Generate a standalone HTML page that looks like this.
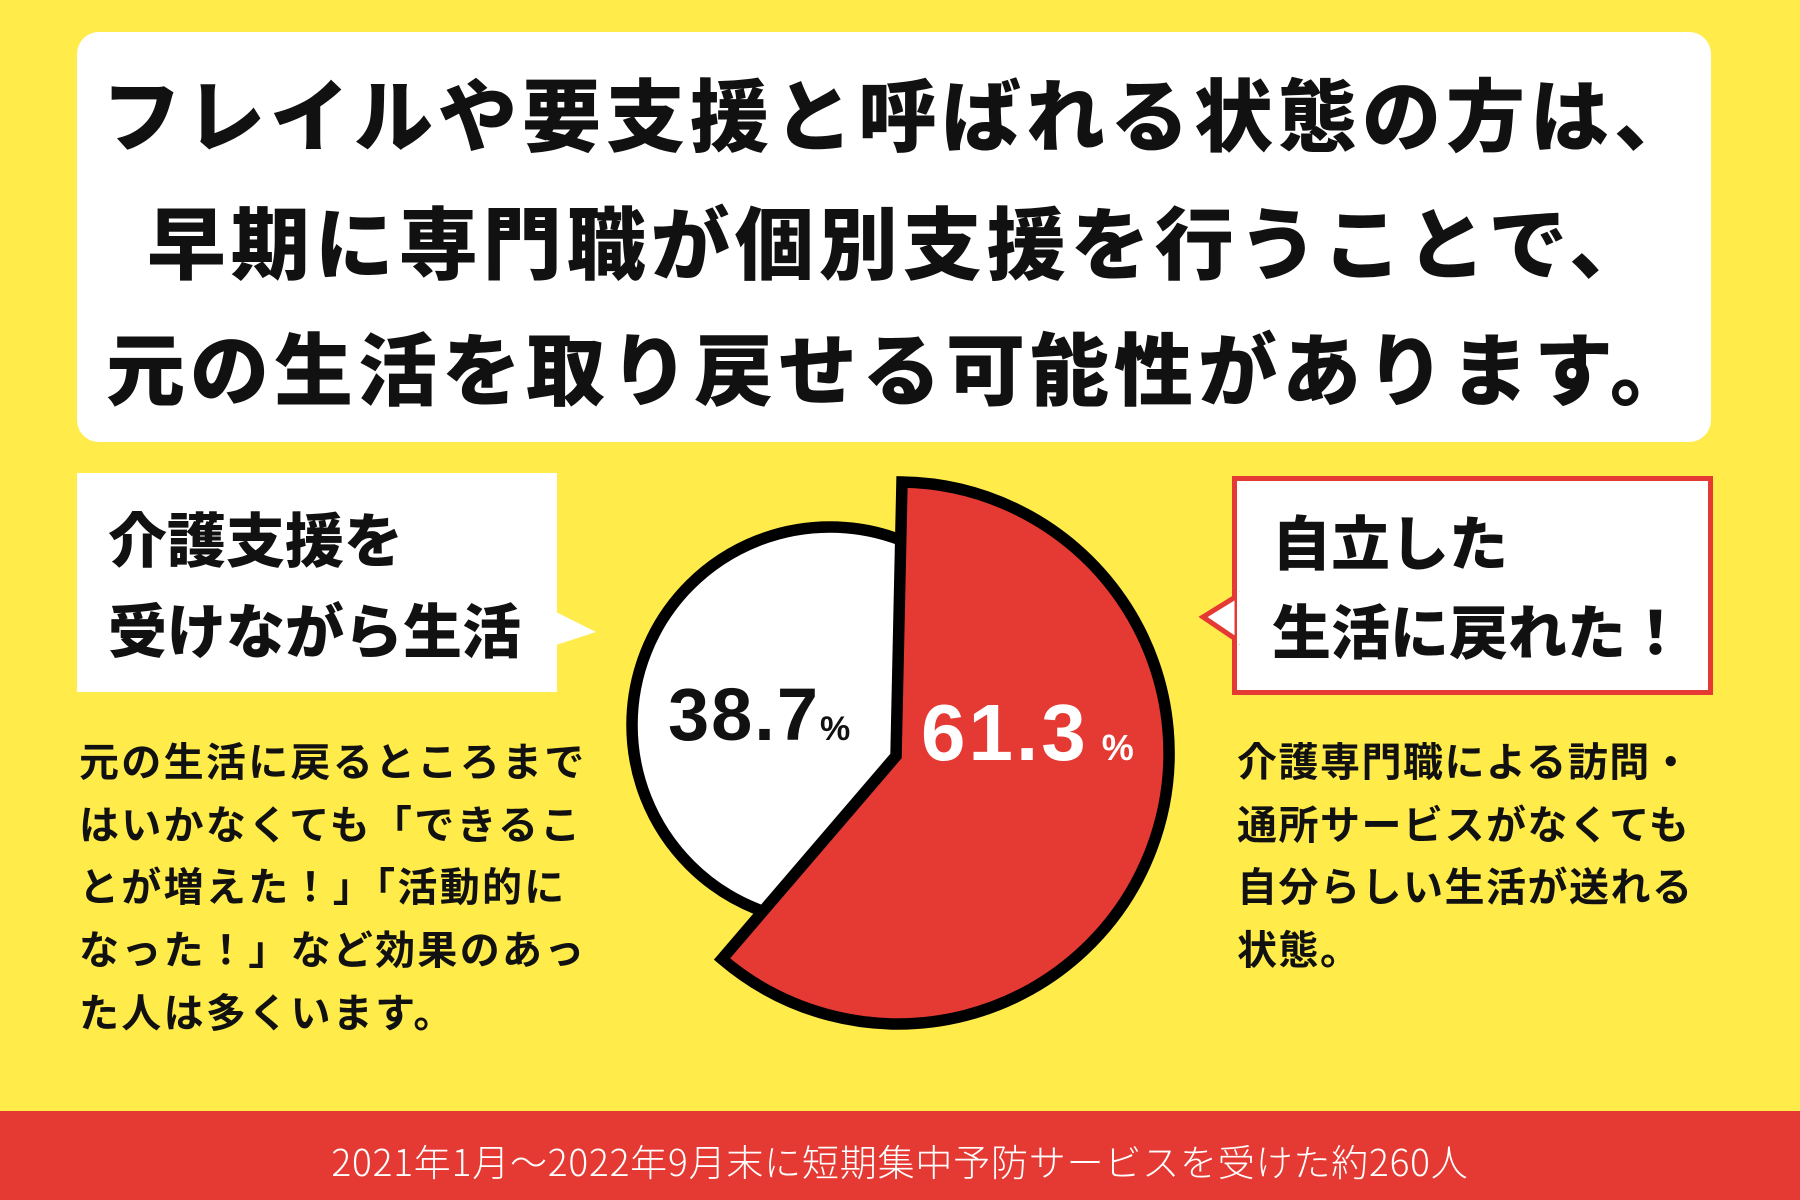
<!DOCTYPE html>
<html><head><meta charset="utf-8"><style>
*{margin:0;padding:0;box-sizing:border-box}
body{width:1800px;height:1200px;background:#FFEC4A;position:relative;overflow:hidden;font-family:"Liberation Sans","Noto Sans CJK JP",sans-serif;color:#111}
.t{position:absolute;white-space:nowrap}
.title{position:absolute;left:77px;top:32px;width:1634px;height:410px;background:#fff;border-radius:22px}
.tl{position:absolute;left:0;width:1800px;text-align:center;font-size:79px;font-weight:900;line-height:90px;letter-spacing:5px;font-family:"Noto Sans CJK JP",sans-serif}
.bx{font-size:59px;font-weight:900;line-height:70px;font-family:"Noto Sans CJK JP",sans-serif}
.p{font-size:40px;font-weight:700;line-height:50px;letter-spacing:2.3px;font-family:"Noto Sans CJK JP",sans-serif}
</style></head><body>
<div class="title"></div>
<div class="tl" style="top:66px">フレイルや要支援と呼ばれる状態の方は、</div>
<div class="tl" style="top:194px">早期に専門職が個別支援を行うことで、</div>
<div class="tl" style="top:320px">元の生活を取り戻せる可能性があります。</div>

<svg width="1800" height="1200" style="position:absolute;left:0;top:0">
<rect x="77" y="473" width="480" height="219" fill="#fff"/>
<polygon points="556,612 596,632 556,645" fill="#fff"/>
<rect x="1234.5" y="478.5" width="476" height="214" fill="#fff" stroke="#E53A33" stroke-width="5"/>
<polygon points="1237,596 1203,617 1237,640" fill="#fff" stroke="#E53A33" stroke-width="5"/>
<rect x="1237" y="592" width="6" height="52" fill="#fff"/>
<circle cx="830" cy="725" r="198" fill="#fff" stroke="#000" stroke-width="11.5"/>
<path d="M896,756 L902,482 A271,271 0 1 1 722,959 Z" fill="#E53A33" stroke="#000" stroke-width="11.5" stroke-linejoin="miter"/>
<rect x="0" y="1111" width="1800" height="89" fill="#E53A33"/>
</svg>

<div class="t bx" style="left:108px;top:502px">介護支援を</div>
<div class="t bx" style="left:108px;top:593px">受けながら生活</div>
<div class="t bx" style="left:1272px;top:505px">自立した</div>
<div class="t bx" style="left:1272px;top:594px">生活に戻れた！</div>

<div class="t" style="left:668px;top:675px;font-size:74px;font-weight:700;line-height:80px;letter-spacing:2px">38.7<span style="font-size:34px">%</span></div>
<div class="t" style="left:921px;top:690px;font-size:80px;font-weight:700;line-height:86px;color:#fff;letter-spacing:3px">61.3<span style="font-size:36px"> %</span></div>

<div class="t p" style="left:79px;top:734px">元の生活に戻るところまで</div>
<div class="t p" style="left:79px;top:797px">はいかなくても「できるこ</div>
<div class="t p" style="left:79px;top:859px">とが増えた！」「活動的に</div>
<div class="t p" style="left:79px;top:922px">なった！」など効果のあっ</div>
<div class="t p" style="left:79px;top:985px">た人は多くいます。</div>

<div class="t p" style="left:1237px;top:734px;letter-spacing:1.5px">介護専門職による訪問・</div>
<div class="t p" style="left:1237px;top:797px;letter-spacing:1.5px">通所サービスがなくても</div>
<div class="t p" style="left:1237px;top:859px;letter-spacing:1.5px">自分らしい生活が送れる</div>
<div class="t p" style="left:1237px;top:922px;letter-spacing:1.5px">状態。</div>

<div class="t" style="left:0;width:1800px;text-align:center;top:1137px;font-size:37px;line-height:46px;letter-spacing:0.8px;color:#fff;font-weight:300;font-family:'Noto Sans CJK JP',sans-serif">2021年1月～2022年9月末に短期集中予防サービスを受けた約260人</div>
</body></html>
